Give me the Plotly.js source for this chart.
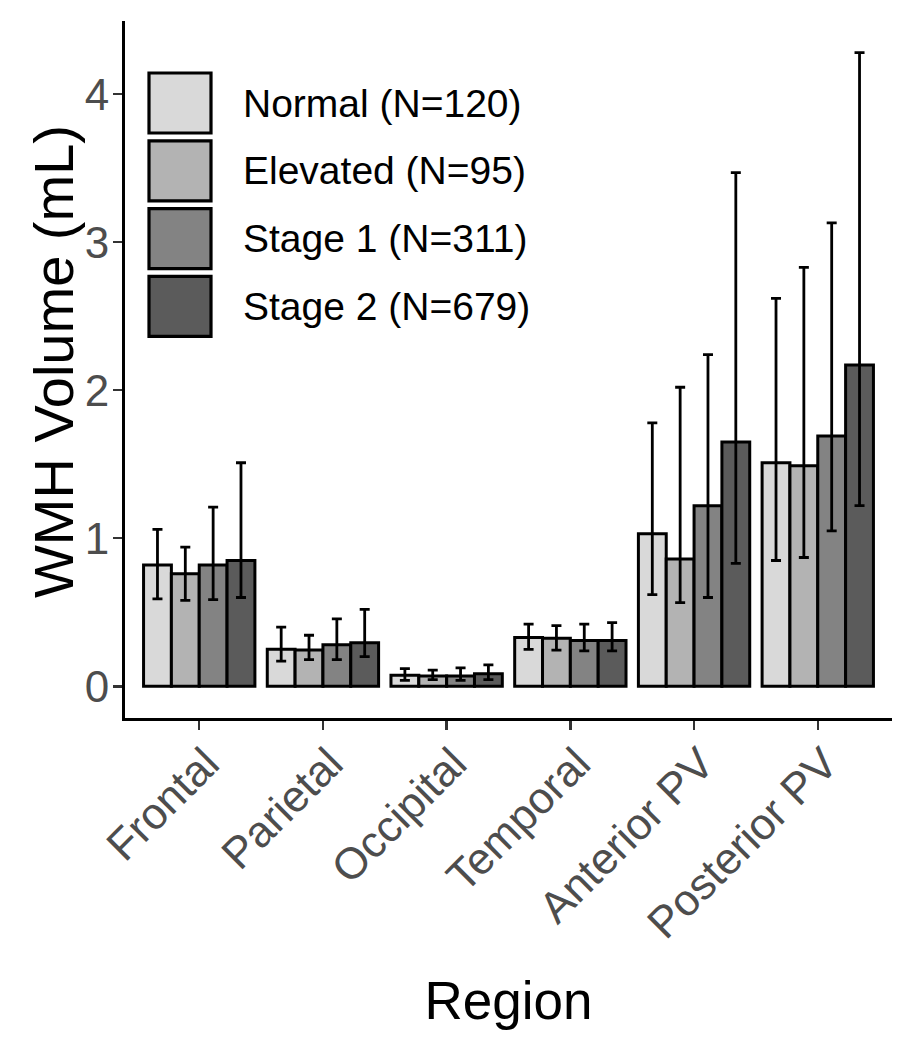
<!DOCTYPE html>
<html>
<head>
<meta charset="utf-8">
<script src="https://cdn.plot.ly/plotly-3.0.1.min.js"></script>
<style>html,body{margin:0;padding:0;background:#fff;}#chart{width:917px;height:1050px;}</style>
</head>
<body>
<div id="chart"></div>
<script>
// ---- data ----
const regions = ["Frontal", "Parietal", "Occipital", "Temporal", "Anterior PV", "Posterior PV"];
const groupNames = ["Normal (N=120)", "Elevated (N=95)", "Stage 1 (N=311)", "Stage 2 (N=679)"];

const normalMean  = [0.82, 0.25, 0.075, 0.33, 1.03, 1.51];
const normalUpper = [1.06, 0.40, 0.12, 0.42, 1.78, 2.62];
const normalLower = [0.59, 0.17, 0.04, 0.25, 0.62, 0.85];

const elevatedMean  = [0.76, 0.245, 0.07, 0.325, 0.86, 1.49];
const elevatedUpper = [0.94, 0.345, 0.11, 0.41, 2.02, 2.83];
const elevatedLower = [0.58, 0.18, 0.045, 0.245, 0.565, 0.87];

const stage1Mean  = [0.82, 0.28, 0.07, 0.31, 1.22, 1.69];
const stage1Upper = [1.21, 0.455, 0.125, 0.42, 2.24, 3.13];
const stage1Lower = [0.585, 0.18, 0.04, 0.24, 0.60, 1.05];

const stage2Mean  = [0.85, 0.295, 0.085, 0.31, 1.65, 2.17];
const stage2Upper = [1.51, 0.52, 0.145, 0.43, 3.47, 4.28];
const stage2Lower = [0.60, 0.20, 0.045, 0.24, 0.83, 1.22];

// ---- styling ----
const fills = ["#D9D9D9", "#B3B3B3", "#838383", "#5B5B5B"];
const FONT = "Liberation Sans, Arial, Helvetica, sans-serif";

const series = [
  [normalMean, normalUpper, normalLower],
  [elevatedMean, elevatedUpper, elevatedLower],
  [stage1Mean, stage1Upper, stage1Lower],
  [stage2Mean, stage2Upper, stage2Lower]
];

const traces = series.map(([m, u, l], i) => ({
  type: "bar",
  name: groupNames[i],
  x: regions,
  y: m,
  marker: { color: fills[i], line: { color: "#000", width: 3 } },
  error_y: {
    type: "data", symmetric: false,
    array: u.map((v, k) => v - m[k]),
    arrayminus: l.map((v, k) => m[k] - v),
    color: "#000", thickness: 2.8, width: 5
  },
  showlegend: false,
  hoverinfo: "x+y"
}));

// plot area in pixels
const L = 125, R = 25, T = 21, B = 332, W = 917, H = 1050;
const pw = W - L - R, ph = H - T - B;
const px = x => (x - L) / pw;
const py = y => (H - B - y) / ph;

const shapes = [], annotations = [];
groupNames.forEach((g, i) => {
  const top = 72 + i * 67.8;
  shapes.push({
    type: "rect", xref: "paper", yref: "paper",
    x0: px(149), x1: px(211), y0: py(top + 61), y1: py(top + 1),
    fillcolor: fills[i], line: { color: "#000", width: 3.2 }
  });
  annotations.push({
    xref: "paper", yref: "paper", x: px(241), y: py(top + 31),
    xanchor: "left", yanchor: "middle", showarrow: false,
    text: g, font: { family: FONT, size: 39, color: "#000" }
  });
});

// y-axis title placed as rotated text
annotations.push({
  xref: "paper", yref: "paper", x: px(53), y: py(362),
  xanchor: "center", yanchor: "middle", showarrow: false, textangle: -90,
  text: "WMH Volume (mL)", font: { family: FONT, size: 56, color: "#000" }
});

const layout = {
  width: W, height: H,
  margin: { l: L, r: R, t: T, b: B },
  paper_bgcolor: "#fff", plot_bgcolor: "#fff",
  barmode: "group", bargap: 0.1, bargroupgap: 0,
  font: { family: FONT },
  xaxis: {
    type: "category", range: [-0.6, 5.6],
    showline: true, linecolor: "#000", linewidth: 3,
    ticks: "outside", ticklen: 9, tickwidth: 2.4, tickcolor: "#333",
    tickangle: -45,
    ticklabelstandoff: -10, ticklabelshift: 7,
    tickfont: { family: FONT, size: 44, color: "#4D4D4D" },
    showgrid: false, zeroline: false,
    title: { text: "Region", font: { family: FONT, size: 53, color: "#000" }, standoff: 36 }
  },
  yaxis: {
    range: [-0.214, 4.494],
    tickvals: [0, 1, 2, 3, 4],
    showline: true, linecolor: "#000", linewidth: 3,
    ticks: "outside", ticklen: 9, tickwidth: 2.4, tickcolor: "#333",
    tickfont: { family: FONT, size: 44, color: "#4D4D4D" },
    ticklabelstandoff: -5,
    showgrid: false, zeroline: false
  },
  shapes: shapes,
  annotations: annotations
};

Plotly.newPlot("chart", traces, layout, { displayModeBar: false, staticPlot: true });
</script>
</body>
</html>
